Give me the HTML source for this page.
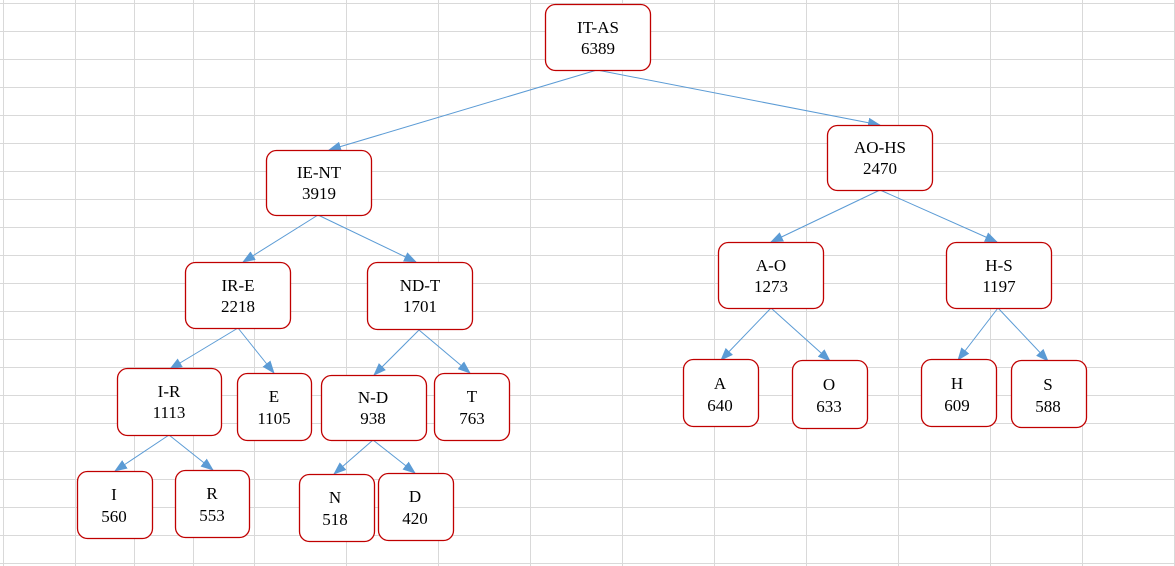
<!DOCTYPE html>
<html><head><meta charset="utf-8"><style>
html,body{margin:0;padding:0;background:#fff;}
body{width:1175px;height:566px;overflow:hidden;position:relative;}
svg{position:absolute;left:0;top:0;}
</style></head><body>
<svg width="1175" height="566" xmlns="http://www.w3.org/2000/svg">
<defs>
<marker id="ah" markerWidth="13" markerHeight="10" refX="12" refY="5" orient="auto" markerUnits="userSpaceOnUse">
<path d="M0,0 L13,5 L0,10 Z" fill="#5b9bd5"/>
</marker>
</defs>
<g stroke="#d9d9d9" stroke-width="1">
<line x1="3.5" y1="0" x2="3.5" y2="566"/><line x1="75.5" y1="0" x2="75.5" y2="566"/>
<line x1="134.5" y1="0" x2="134.5" y2="566"/><line x1="193.5" y1="0" x2="193.5" y2="566"/>
<line x1="254.5" y1="0" x2="254.5" y2="566"/><line x1="346.5" y1="0" x2="346.5" y2="566"/>
<line x1="438.5" y1="0" x2="438.5" y2="566"/><line x1="530.5" y1="0" x2="530.5" y2="566"/>
<line x1="622.5" y1="0" x2="622.5" y2="566"/><line x1="714.5" y1="0" x2="714.5" y2="566"/>
<line x1="806.5" y1="0" x2="806.5" y2="566"/><line x1="898.5" y1="0" x2="898.5" y2="566"/>
<line x1="990.5" y1="0" x2="990.5" y2="566"/><line x1="1082.5" y1="0" x2="1082.5" y2="566"/>
<line x1="1174.5" y1="0" x2="1174.5" y2="566"/>
<line x1="0" y1="3.5" x2="1175" y2="3.5"/><line x1="0" y1="31.5" x2="1175" y2="31.5"/>
<line x1="0" y1="59.5" x2="1175" y2="59.5"/><line x1="0" y1="87.5" x2="1175" y2="87.5"/>
<line x1="0" y1="115.5" x2="1175" y2="115.5"/><line x1="0" y1="143.5" x2="1175" y2="143.5"/>
<line x1="0" y1="171.5" x2="1175" y2="171.5"/><line x1="0" y1="199.5" x2="1175" y2="199.5"/>
<line x1="0" y1="227.5" x2="1175" y2="227.5"/><line x1="0" y1="255.5" x2="1175" y2="255.5"/>
<line x1="0" y1="283.5" x2="1175" y2="283.5"/><line x1="0" y1="311.5" x2="1175" y2="311.5"/>
<line x1="0" y1="339.5" x2="1175" y2="339.5"/><line x1="0" y1="367.5" x2="1175" y2="367.5"/>
<line x1="0" y1="395.5" x2="1175" y2="395.5"/><line x1="0" y1="423.5" x2="1175" y2="423.5"/>
<line x1="0" y1="451.5" x2="1175" y2="451.5"/><line x1="0" y1="479.5" x2="1175" y2="479.5"/>
<line x1="0" y1="507.5" x2="1175" y2="507.5"/><line x1="0" y1="535.5" x2="1175" y2="535.5"/>
<line x1="0" y1="563.5" x2="1175" y2="563.5"/>
</g>
<g stroke="#5b9bd5" stroke-width="1" marker-end="url(#ah)">
<line x1="597" y1="70" x2="329" y2="150"/>
<line x1="597" y1="70" x2="880" y2="125"/>
<line x1="318" y1="215" x2="243" y2="262"/>
<line x1="318" y1="215" x2="416" y2="262"/>
<line x1="880" y1="190" x2="771" y2="242"/>
<line x1="880" y1="190" x2="997" y2="242"/>
<line x1="238" y1="328" x2="170" y2="369"/>
<line x1="238" y1="328" x2="274" y2="373"/>
<line x1="419" y1="330" x2="374" y2="375"/>
<line x1="419" y1="330" x2="470" y2="373"/>
<line x1="771" y1="308" x2="721" y2="360"/>
<line x1="771" y1="308" x2="830" y2="361"/>
<line x1="998" y1="308" x2="958" y2="360"/>
<line x1="998" y1="308" x2="1048" y2="361"/>
<line x1="169" y1="435" x2="115" y2="471"/>
<line x1="169" y1="435" x2="213" y2="470"/>
<line x1="373" y1="440" x2="334" y2="474"/>
<line x1="373" y1="440" x2="415" y2="473"/>
</g>
<g fill="#fff" stroke="#c00000" stroke-width="1.3">
<rect x="545.5" y="4.5" width="105" height="66" rx="10"/>
<rect x="266.5" y="150.5" width="105" height="65" rx="10"/>
<rect x="827.5" y="125.5" width="105" height="65" rx="10"/>
<rect x="185.5" y="262.5" width="105" height="66" rx="10"/>
<rect x="367.5" y="262.5" width="105" height="67" rx="10"/>
<rect x="718.5" y="242.5" width="105" height="66" rx="10"/>
<rect x="946.5" y="242.5" width="105" height="66" rx="10"/>
<rect x="117.5" y="368.5" width="104" height="67" rx="10"/>
<rect x="237.5" y="373.5" width="74" height="67" rx="10"/>
<rect x="321.5" y="375.5" width="105" height="65" rx="10"/>
<rect x="434.5" y="373.5" width="75" height="67" rx="10"/>
<rect x="683.5" y="359.5" width="75" height="67" rx="10"/>
<rect x="792.5" y="360.5" width="75" height="68" rx="10"/>
<rect x="921.5" y="359.5" width="75" height="67" rx="10"/>
<rect x="1011.5" y="360.5" width="75" height="67" rx="10"/>
<rect x="77.5" y="471.5" width="75" height="67" rx="10"/>
<rect x="175.5" y="470.5" width="74" height="67" rx="10"/>
<rect x="299.5" y="474.5" width="75" height="67" rx="10"/>
<rect x="378.5" y="473.5" width="75" height="67" rx="10"/>
</g>
<g font-family="'Liberation Serif', serif" font-size="17" fill="#000" text-anchor="middle">
<text x="598" y="33">IT-AS</text><text x="598" y="54">6389</text>
<text x="319" y="178">IE-NT</text><text x="319" y="199">3919</text>
<text x="880" y="153">AO-HS</text><text x="880" y="174">2470</text>
<text x="238" y="291">IR-E</text><text x="238" y="312">2218</text>
<text x="420" y="291">ND-T</text><text x="420" y="312">1701</text>
<text x="771" y="271">A-O</text><text x="771" y="292">1273</text>
<text x="999" y="271">H-S</text><text x="999" y="292">1197</text>
<text x="169" y="397">I-R</text><text x="169" y="418">1113</text>
<text x="274" y="402">E</text><text x="274" y="424">1105</text>
<text x="373" y="403">N-D</text><text x="373" y="424">938</text>
<text x="472" y="402">T</text><text x="472" y="424">763</text>
<text x="720" y="389">A</text><text x="720" y="411">640</text>
<text x="829" y="390">O</text><text x="829" y="412">633</text>
<text x="957" y="389">H</text><text x="957" y="411">609</text>
<text x="1048" y="390">S</text><text x="1048" y="412">588</text>
<text x="114" y="500">I</text><text x="114" y="522">560</text>
<text x="212" y="499">R</text><text x="212" y="521">553</text>
<text x="335" y="503">N</text><text x="335" y="525">518</text>
<text x="415" y="502">D</text><text x="415" y="524">420</text>
</g>
</svg>
</body></html>
